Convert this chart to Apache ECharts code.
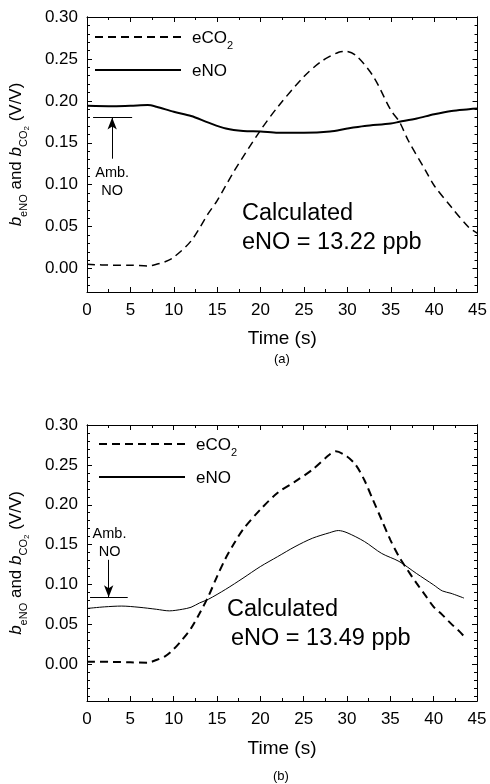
<!DOCTYPE html>
<html>
<head>
<meta charset="utf-8">
<script src="https://cdn.jsdelivr.net/npm/echarts@6/dist/echarts.min.js"></script>
<style>html,body{margin:0;padding:0;background:#fff}#c{width:490px;height:784px}</style>
</head>
<body>
<div id="c"></div>
<script>
// ---- Data ----
// Panel (a)
const tA_co2 = [0, 3, 5, 7, 8, 9, 10, 12, 14, 15, 17, 20, 22, 25, 27, 29, 29.8, 31, 33, 35, 36, 37, 39, 40, 42, 44, 45];
const vA_co2 = [0.005, 0.004, 0.004, 0.003, 0.005, 0.008, 0.0135, 0.033, 0.066, 0.081, 0.117, 0.165, 0.193, 0.229, 0.247, 0.258, 0.259, 0.254, 0.229, 0.189, 0.175, 0.153, 0.117, 0.099, 0.073, 0.049, 0.042];
const tA_no = [0, 3, 5, 7, 8, 10, 12, 14, 16, 18, 20, 22, 25, 28, 30, 32, 35, 36, 38, 40, 42, 44, 45];
const vA_no = [0.194, 0.1935, 0.194, 0.195, 0.193, 0.187, 0.182, 0.174, 0.167, 0.164, 0.1635, 0.162, 0.162, 0.1635, 0.167, 0.170, 0.173, 0.175, 0.179, 0.184, 0.188, 0.190, 0.191];
// Panel (b)
const tB_co2 = [0, 3, 5, 7, 8, 9, 10, 11, 12, 13, 14, 15, 16, 17, 18, 20, 22, 24, 26, 28, 28.7, 30, 31, 32, 33, 34, 35, 36, 37, 38, 39, 40, 41, 42, 43, 43.5];
const vB_co2 = [0.0033, 0.003, 0.0025, 0.002, 0.0054, 0.010, 0.019, 0.031, 0.045, 0.064, 0.085, 0.110, 0.133, 0.152, 0.169, 0.194, 0.215, 0.229, 0.244, 0.263, 0.267, 0.2605, 0.250, 0.231, 0.206, 0.181, 0.156, 0.135, 0.118, 0.102, 0.087, 0.072, 0.062, 0.051, 0.041, 0.035];
const tB_no = [0, 2, 4, 6, 8, 9.5, 11, 12, 13, 14, 16, 18, 20, 22, 24, 26, 28, 29, 30, 32, 34, 36, 38, 40, 41, 42, 43.5];
const vB_no = [0.070, 0.072, 0.073, 0.0715, 0.069, 0.067, 0.069, 0.0715, 0.077, 0.0815, 0.094, 0.108, 0.1225, 0.135, 0.1475, 0.158, 0.165, 0.1677, 0.165, 0.154, 0.139, 0.129, 0.114, 0.0995, 0.092, 0.089, 0.083];
// Axis ticks
const xTickLabels = [0, 5, 10, 15, 20, 25, 30, 35, 40, 45];
const yTickLabels = [0.00, 0.05, 0.10, 0.15, 0.20, 0.25, 0.30];
const yMinA = -0.028, yMinB = -0.046, yMax = 0.30;
// Annotations
const ambA = {level: 0.18, x0: 0.7, x1: 5.2, arrowX: 2.9, arrowFrom: 0.131, textY: 0.103};
const ambB = {level: 0.084, x0: 0.35, x1: 4.7, arrowX: 2.5, arrowFrom: 0.131, textY: 0.152, textX: 2.6};
const calcA = ['Calculated', 'eNO = 13.22 ppb'];
const calcB = ['Calculated', 'eNO = 13.49 ppb'];

const FONT = '"Liberation Sans", Arial, sans-serif';
const pairs = (t, v) => t.map((x, i) => [x, v[i]]);
function minorList(min) {
  const out = [];
  for (let k = Math.ceil(min * 100 - 1e-9); k <= 30; k++) {
    if (k % 5 !== 0) out.push(k / 100);
  }
  return out;
}

const grids = [
  {left: 87, right: 12, top: 17, height: 275},
  {left: 87, right: 13, top: 425, height: 276}
];

const xAxes = [], yAxes = [];
[0, 1].forEach(g => {
  const base = {
    type: 'value', gridIndex: g, min: 0, max: 45, interval: 5,
    splitLine: {show: false},
    axisLine: {onZero: false, lineStyle: {color: '#000', width: 1}},
    axisTick: {inside: true, length: 5, lineStyle: {color: '#000'}},
    minorTick: {show: true, splitNumber: 2, length: 3, lineStyle: {color: '#000'}}
  };
  xAxes.push(Object.assign({}, base, {
    position: 'bottom',
    axisLabel: {fontSize: 17, fontFamily: FONT, color: '#000', margin: 10},
    name: 'Time (s)', nameLocation: 'middle', nameGap: g === 0 ? 37 : 38,
    nameTextStyle: {fontSize: 19, fontFamily: FONT, color: '#000'}
  }));
  xAxes.push(Object.assign({}, base, {position: 'top', axisLabel: {show: false}}));

  const ymin = g === 0 ? yMinA : yMinB;
  const ybase = {
    type: 'value', gridIndex: g, min: ymin, max: yMax,
    splitLine: {show: false},
    axisLine: {show: true, onZero: false, lineStyle: {color: '#000', width: 1}}
  };
  yAxes.push(Object.assign({}, ybase, {
    position: 'left',
    axisTick: {inside: true, length: 5, customValues: yTickLabels, lineStyle: {color: '#000'}},
    axisLabel: {customValues: yTickLabels, formatter: v => v.toFixed(2), fontSize: 17, fontFamily: FONT, color: '#000', margin: 9},
    name: '{i|b}{s|eNO}{t| and }{i|b}{s|CO}{ss|2}{t| (V/V)}',
    nameLocation: 'middle', nameGap: 62, nameRotate: 90,
    nameTextStyle: {
      fontFamily: FONT, color: '#000',
      rich: {
        i: {fontSize: 17, fontStyle: 'italic', fontFamily: FONT, color: '#000', lineHeight: 22, verticalAlign: 'bottom'},
        t: {fontSize: 17, fontFamily: FONT, color: '#000', lineHeight: 22, verticalAlign: 'bottom'},
        s: {fontSize: 11, fontFamily: FONT, color: '#000', lineHeight: 22, verticalAlign: 'bottom', padding: [0, 0, -4, 0]},
        ss: {fontSize: 8, fontFamily: FONT, color: '#000', lineHeight: 22, verticalAlign: 'bottom', padding: [0, 0, -6, 0]}
      }
    }
  }));
  yAxes.push(Object.assign({}, ybase, {
    position: 'left', axisLabel: {show: false},
    axisTick: {inside: true, length: 3, customValues: minorList(ymin), lineStyle: {color: '#000'}}
  }));
  yAxes.push(Object.assign({}, ybase, {
    position: 'right', axisLabel: {show: false},
    axisTick: {inside: true, length: 5, customValues: yTickLabels, lineStyle: {color: '#000'}}
  }));
  yAxes.push(Object.assign({}, ybase, {
    position: 'right', axisLabel: {show: false},
    axisTick: {inside: true, length: 3, customValues: minorList(ymin), lineStyle: {color: '#000'}}
  }));
});

function ambMark(a) {
  const tx = a.textX !== undefined ? a.textX : a.arrowX;
  return {
    markLine: {
      silent: true, animation: false,
      label: {show: false},
      lineStyle: {color: '#000', width: 1, type: 'solid'},
      data: [
        [{coord: [a.x0, a.level], symbol: 'none'}, {coord: [a.x1, a.level], symbol: 'none'}],
        [{coord: [a.arrowX, a.arrowFrom], symbol: 'none'}, {coord: [a.arrowX, a.level], symbol: 'arrow', symbolSize: [7, 12]}]
      ]
    },
    markPoint: {
      silent: true, animation: false, symbol: 'circle', symbolSize: 0,
      label: {show: true, formatter: 'Amb.\nNO', fontSize: 14.5, fontFamily: FONT, color: '#000', lineHeight: 18, align: 'center'},
      data: [{coord: [tx, a.textY]}]
    }
  };
}

const series = [
  {name: 'a_co2', type: 'line', xAxisIndex: 0, yAxisIndex: 0, data: pairs(tA_co2, vA_co2), symbol: 'none', smooth: 0.3,
   itemStyle: {color: '#000'}, lineStyle: {color: '#000', width: 1.5, type: [8, 5]}},
  Object.assign({name: 'a_no', type: 'line', xAxisIndex: 0, yAxisIndex: 0, data: pairs(tA_no, vA_no), symbol: 'none', smooth: 0.3,
   itemStyle: {color: '#000'}, lineStyle: {color: '#000', width: 2, type: 'solid'}}, ambMark(ambA)),
  {name: 'b_co2', type: 'line', xAxisIndex: 2, yAxisIndex: 4, data: pairs(tB_co2, vB_co2), symbol: 'none', smooth: 0.3,
   itemStyle: {color: '#000'}, lineStyle: {color: '#000', width: 2, type: [8, 5]}},
  Object.assign({name: 'b_no', type: 'line', xAxisIndex: 2, yAxisIndex: 4, data: pairs(tB_no, vB_no), symbol: 'none', smooth: 0.3,
   itemStyle: {color: '#000'}, lineStyle: {color: '#000', width: 1, type: 'solid'}}, ambMark(ambB))
];

const legendText = {a_co2: '{n|eCO}{s|2}', a_no: '{n|eNO}', b_co2: '{n|eCO}{s|2}', b_no: '{n|eNO}'};
const legendRich = {
  n: {fontSize: 17, fontFamily: FONT, color: '#000', lineHeight: 20, verticalAlign: 'bottom'},
  s: {fontSize: 11, fontFamily: FONT, color: '#000', lineHeight: 20, verticalAlign: 'bottom', padding: [0, 0, -4, 0]}
};
function legend(names, left, top) {
  return {
    data: names, orient: 'vertical', left: left, top: top, padding: 0,
    itemWidth: 86, itemHeight: 14, itemGap: 12,
    selectedMode: false,
    itemStyle: {opacity: 0},
    formatter: n => legendText[n],
    textStyle: {rich: legendRich, padding: [0, 0, 0, 6]}
  };
}

function calcText(lines, x1, y1, x2, y2) {
  return [
    {type: 'text', left: x1, top: y1, style: {text: lines[0], font: '23.5px ' + FONT, fill: '#000'}},
    {type: 'text', left: x2, top: y2, style: {text: lines[1], font: '23.5px ' + FONT, fill: '#000'}}
  ];
}

const option = {
  animation: false,
  backgroundColor: '#fff',
  grid: grids,
  xAxis: xAxes,
  yAxis: yAxes,
  series: series,
  legend: [legend(['a_co2', 'a_no'], 94, 30), legend(['b_co2', 'b_no'], 98, 437)],
  graphic: [].concat(
    calcText(calcA, 242, 202, 242, 231),
    calcText(calcB, 227, 598, 231, 627),
    [
      {type: 'text', left: 274, top: 353, style: {text: '(a)', font: '13px ' + FONT, fill: '#000'}},
      {type: 'text', left: 273, top: 770, style: {text: '(b)', font: '13px ' + FONT, fill: '#000'}}
    ]
  )
};

const chart = echarts.init(document.getElementById('c'), null, {renderer: 'canvas'});
chart.setOption(option);
</script>
</body>
</html>
